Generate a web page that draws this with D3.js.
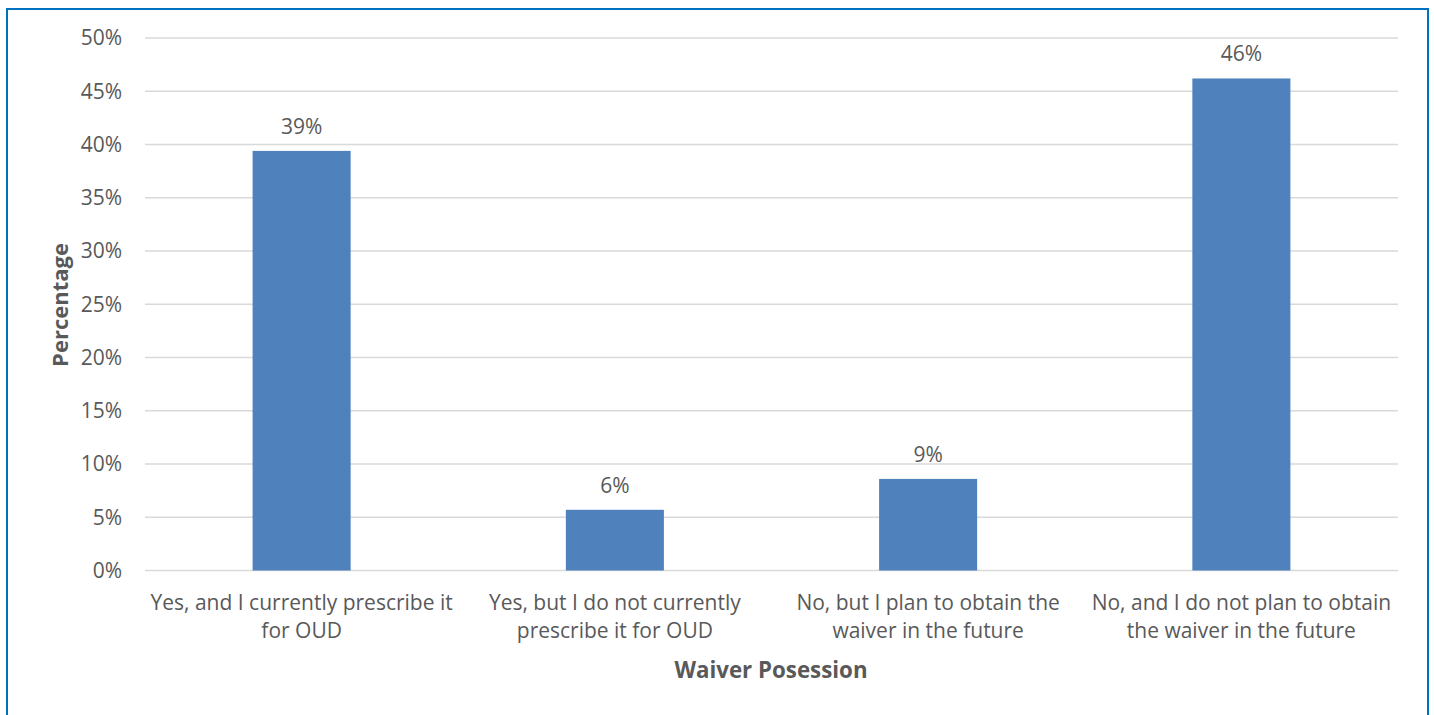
<!DOCTYPE html>
<html><head><meta charset="utf-8">
<script src="https://cdn.jsdelivr.net/npm/d3@7"></script>
<style>body{margin:0;background:#fff}svg{display:block}</style>
</head><body>
<script>
const categories = [
  ["Yes, and I currently prescribe it", "for OUD"],
  ["Yes, but I do not currently", "prescribe it for OUD"],
  ["No, but I plan to obtain the", "waiver in the future"],
  ["No, and I do not plan to obtain", "the waiver in the future"]
];
const values = [39.4, 5.7, 8.6, 46.2];
const valueLabels = ["39%", "6%", "9%", "46%"];
const yTicks = [0, 5, 10, 15, 20, 25, 30, 35, 40, 45, 50];

const W = 1434, H = 715;
const font = "'Open Sans', Lato, sans-serif";
const textColor = "#595959";
const svg = d3.select("body").append("svg").attr("width", W).attr("height", H);

svg.append("rect").attr("x", 7).attr("y", 9).attr("width", 1421).attr("height", 720)
  .attr("fill", "none").attr("stroke", "#0070C0").attr("stroke-width", 2);

const x = d3.scaleBand().domain(d3.range(categories.length)).range([145, 1398]).padding(0);
const y = d3.scaleLinear().domain([0, 50]).range([570.5, 38]);

svg.append("g").selectAll("line").data(yTicks).join("line")
  .attr("x1", 145).attr("x2", 1398)
  .attr("y1", d => y(d)).attr("y2", d => y(d))
  .attr("stroke", "#d9d9d9").attr("stroke-width", 1.3);

svg.append("g").selectAll("text").data(yTicks).join("text")
  .attr("x", 122).attr("y", d => y(d)).attr("dy", "0.35em")
  .attr("text-anchor", "end").attr("font-family", font).attr("font-size", 21)
  .attr("fill", textColor).text(d => d + "%");

const bw = x.bandwidth() * 0.313;
svg.append("g").selectAll("rect").data(values).join("rect")
  .attr("x", (d, i) => x(i) + x.bandwidth() / 2 - bw / 2)
  .attr("width", bw)
  .attr("y", d => y(d)).attr("height", d => y(0) - y(d))
  .attr("fill", "#4F81BD");

svg.append("g").selectAll("text").data(values).join("text")
  .attr("x", (d, i) => x(i) + x.bandwidth() / 2)
  .attr("y", d => y(d) - 17)
  .attr("text-anchor", "middle").attr("font-family", font).attr("font-size", 21)
  .attr("fill", textColor).text((d, i) => valueLabels[i]);

const cat = svg.append("g").selectAll("text").data(categories).join("text")
  .attr("text-anchor", "middle").attr("font-family", font).attr("font-size", 21)
  .attr("fill", textColor);
cat.selectAll("tspan").data((d, i) => d.map(t => ({t, i}))).join("tspan")
  .attr("x", d => x(d.i) + x.bandwidth() / 2)
  .attr("y", (d, j) => 610 + j * 28)
  .text(d => d.t);

svg.append("text").attr("x", 771).attr("y", 678).attr("text-anchor", "middle")
  .attr("font-family", font).attr("font-size", 22.3).attr("font-weight", "bold")
  .attr("fill", textColor).text("Waiver Posession");

svg.append("text").attr("transform", "translate(68,305) rotate(-90)")
  .attr("text-anchor", "middle").attr("font-family", font).attr("font-size", 22)
  .attr("font-weight", "bold").attr("fill", textColor).text("Percentage");
</script>
</body></html>
